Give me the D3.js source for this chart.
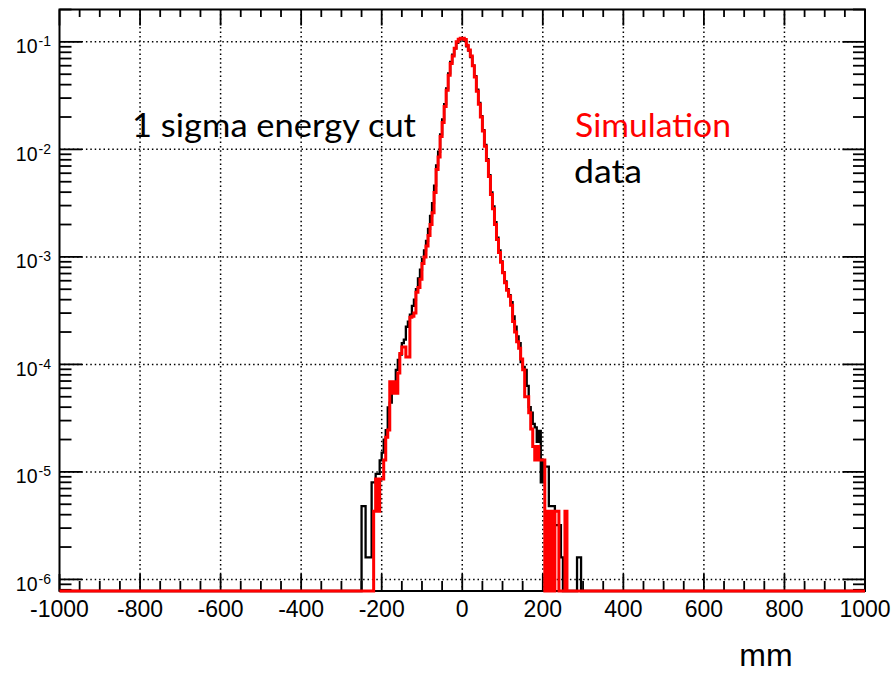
<!DOCTYPE html>
<html><head><meta charset="utf-8">
<script src="https://cdn.jsdelivr.net/npm/d3@7"></script>
<style>body{margin:0;background:#fff}svg{display:block}</style>
</head><body>
<svg id="c" width="895" height="673"></svg>
<script>
// ---- data ----
const binStart = -250;          // lower edge of first listed bin (mm)
const binWidth = 5;             // mm
const xDomain = [-1000, 1000];
const yDomain = [7.8e-7, 0.2];
const xTickValues = [-1000, -800, -600, -400, -200, 0, 200, 400, 600, 800, 1000];
const xTickLabels = ["-1000", "-800", "-600", "-400", "-200", "0", "200", "400", "600", "800", "1000"];
const yTickExponents = [-6, -5, -4, -3, -2, -1];
const yTickLabels = ["-6", "-5", "-4", "-3", "-2", "-1"];
const legendLabels = ["1 sigma energy cut", "Simulation", "data"];
const xTitle = "mm";

// Simulation (red), bins from -250 to 300 mm
const simulation = [
  0, 0, 0, 0, 0, 0,
  4.3e-6, 8.6e-6, 4.3e-6, 8.6e-6, 8.6e-6, 1.29e-5,
  2.1e-5, 2.45e-5, 6.9e-5, 5.4e-5, 6.9e-5, 5.4e-5,
  8.3e-5, 1.26e-4, 1.45e-4, 1.45e-4, 1.17e-4, 1.17e-4,
  2.75e-4, 2.8e-4, 3.0e-4, 4.7e-4, 5.2e-4, 6.2e-4,
  8.7e-4, 1.0e-3, 1.26e-3, 1.58e-3, 2.0e-3, 2.57e-3,
  3.98e-3, 6.5e-3, 8.5e-3, 1.32e-2, 1.78e-2, 2.51e-2,
  3.55e-2, 4.9e-2, 6.3e-2, 7.4e-2, 8.7e-2, 0.100,
  0.106, 0.108,
  0.108, 0.105, 0.093, 0.084, 0.074, 0.060,
  0.047, 0.0347, 0.0263, 0.020, 0.0148, 0.0107,
  7.9e-3, 5.6e-3, 3.8e-3, 2.8e-3, 2.0e-3, 1.45e-3,
  1.1e-3, 8.9e-4, 7.1e-4, 5.75e-4, 4.9e-4, 4.3e-4,
  3.55e-4, 2.5e-4, 2.0e-4, 1.62e-4, 1.41e-4, 1.12e-4,
  8.9e-5, 5.0e-5, 5.0e-5, 3.55e-5, 2.5e-5, 1.72e-5,
  1.29e-5, 1.72e-5, 1.29e-5, 1.29e-5, 1.29e-5, 0,
  4.3e-6, 0, 4.3e-6, 0, 4.3e-6, 4.3e-6,
  0, 0, 0, 4.3e-6, 0, 0,
  0, 0, 0, 0, 0, 0
];

// Data (black), bins from -250 to 300 mm
const data = [
  4.8e-6, 4.8e-6, 1.6e-6, 1.6e-6, 1.6e-6, 8.0e-6,
  8.0e-6, 9.6e-6, 9.6e-6, 1.28e-5, 1.51e-5, 2.0e-5,
  2.45e-5, 3.98e-5, 4.4e-5, 5.75e-5, 6.2e-5, 8.9e-5,
  1.1e-4, 1.23e-4, 1.58e-4, 1.7e-4, 2.24e-4, 2.5e-4,
  2.9e-4, 3.5e-4, 4.0e-4, 5.0e-4, 6.3e-4, 7.6e-4,
  9.5e-4, 1.15e-3, 1.41e-3, 1.82e-3, 2.4e-3, 3.16e-3,
  4.6e-3, 7.1e-3, 9.5e-3, 1.38e-2, 1.9e-2, 2.63e-2,
  3.7e-2, 5.1e-2, 6.5e-2, 7.6e-2, 8.7e-2, 9.8e-2,
  0.105, 0.107,
  0.107, 0.102, 0.091, 0.083, 0.072, 0.060,
  0.048, 0.036, 0.027, 0.0204, 0.0151, 0.011,
  8.1e-3, 5.75e-3, 3.98e-3, 2.95e-3, 2.1e-3, 1.51e-3,
  1.15e-3, 9.1e-4, 7.2e-4, 5.9e-4, 5.0e-4, 4.4e-4,
  3.8e-4, 2.8e-4, 2.24e-4, 1.82e-4, 1.58e-4, 1.05e-4,
  9.5e-5, 8.9e-5, 6.3e-5, 4.0e-5, 3.55e-5, 2.8e-5,
  2.6e-5, 1.9e-5, 2.4e-5, 8.0e-6, 1.28e-5, 1.12e-5,
  1.12e-5, 4.8e-6, 4.8e-6, 4.8e-6, 3.2e-6, 3.2e-6,
  3.2e-6, 1.6e-6, 0, 0, 0, 0,
  0, 0, 0, 1.6e-6, 1.6e-6, 0
];

// ---- layout ----
const L = 59.5, R = 865, T = 9.5, B = 591;
const svg = d3.select("#c");
const x = d3.scaleLinear().domain(xDomain).range([L, R]);
const y = d3.scaleLog().domain(yDomain).range([B, T]);
const axisFont = "'Liberation Sans', Arial, Helvetica, sans-serif";
const textFont = "Lato, 'Open Sans', sans-serif";

// grid (dotted)
const grid = svg.append("g").attr("stroke", "#000").attr("stroke-width", 1.5)
  .attr("stroke-dasharray", "1.5 2.9");
xTickValues.slice(1, -1).forEach(v => {
  grid.append("line").attr("x1", x(v)).attr("x2", x(v)).attr("y1", T).attr("y2", B);
});
yTickExponents.forEach(e => {
  grid.append("line").attr("x1", L).attr("x2", R).attr("y1", y(Math.pow(10, e))).attr("y2", y(Math.pow(10, e)));
});

// ticks
const ticks = svg.append("g").attr("stroke", "#000").attr("stroke-width", 1.8);
for (let v = xDomain[0]; v <= xDomain[1]; v += 50) {
  const major = (v % 200 === 0);
  ticks.append("line").attr("x1", x(v)).attr("x2", x(v)).attr("y1", B).attr("y2", B - (major ? 17 : 10));
  ticks.append("line").attr("x1", x(v)).attr("x2", x(v)).attr("y1", T).attr("y2", T + (major ? 16 : 7.5));
}
for (let e = -7; e <= 0; e++) {
  for (let m = 1; m <= 9; m++) {
    const v = m * Math.pow(10, e);
    if (v < yDomain[0] || v > yDomain[1] * 1.0001) continue;
    const yy = y(v);
    const len = m === 1 ? 22.5 : 12;
    ticks.append("line").attr("x1", L).attr("x2", L + len).attr("y1", yy).attr("y2", yy);
    ticks.append("line").attr("x1", R).attr("x2", R - len).attr("y1", yy).attr("y2", yy);
  }
}

// frame
svg.append("rect").attr("x", L).attr("y", T).attr("width", R - L).attr("height", B - T)
  .attr("fill", "none").attr("stroke", "#000").attr("stroke-width", 2);

// x tick labels
svg.append("g").selectAll("text").data(xTickValues).join("text")
  .attr("x", d => x(d)).attr("y", 616.5).attr("text-anchor", "middle")
  .attr("font-family", axisFont).attr("font-size", 23).attr("fill", "#000")
  .text((d, i) => xTickLabels[i]);

// y tick labels 10^n
yTickExponents.forEach((e, i) => {
  const yy = y(Math.pow(10, e));
  const t = svg.append("text").attr("x", 51).attr("y", yy + 11.3).attr("text-anchor", "end")
    .attr("font-family", axisFont).attr("fill", "#000");
  t.append("tspan").attr("font-size", 19.5).text("10");
  t.append("tspan").attr("font-size", 14).attr("dy", -6.7).attr("dx", 1).text(yTickLabels[i]);
});

// x title
svg.append("text").attr("x", 766).attr("y", 666).attr("text-anchor", "middle")
  .attr("font-family", axisFont).attr("font-size", 32).attr("fill", "#000").text(xTitle);

// histograms
function stepPoints(vals) {
  const pts = [[xDomain[0], 0], [binStart, 0]];
  vals.forEach((v, i) => {
    const lo = binStart + i * binWidth;
    pts.push([lo, v], [lo + binWidth, v]);
  });
  const end = binStart + vals.length * binWidth;
  pts.push([end, 0], [xDomain[1], 0]);
  return pts;
}
const yPos = v => v > 0 ? y(Math.max(v, yDomain[0])) : B;
const line = d3.line().x(d => x(d[0])).y(d => yPos(d[1]));

svg.append("path").attr("d", line(stepPoints(data)))
  .attr("fill", "none").attr("stroke", "#000").attr("stroke-width", 2.3).attr("stroke-linejoin", "miter");
svg.append("path").attr("d", line(stepPoints(simulation)))
  .attr("fill", "none").attr("stroke", "#ff0000").attr("stroke-width", 3).attr("stroke-linejoin", "miter");

// legend texts
const leg = [
  {t: legendLabels[0], x: 132, y: 136.5, w: 284, c: "#000"},
  {t: legendLabels[1], x: 575, y: 136.5, w: 156, c: "#ff0000"},
  {t: legendLabels[2], x: 574, y: 183, w: 68, c: "#000"}
];
leg.forEach(d => {
  svg.append("text").attr("x", d.x).attr("y", d.y).attr("font-family", textFont)
    .attr("font-size", 32).attr("fill", d.c)
    .attr("textLength", d.w).attr("lengthAdjust", "spacingAndGlyphs").text(d.t);
});
</script>
</body></html>
